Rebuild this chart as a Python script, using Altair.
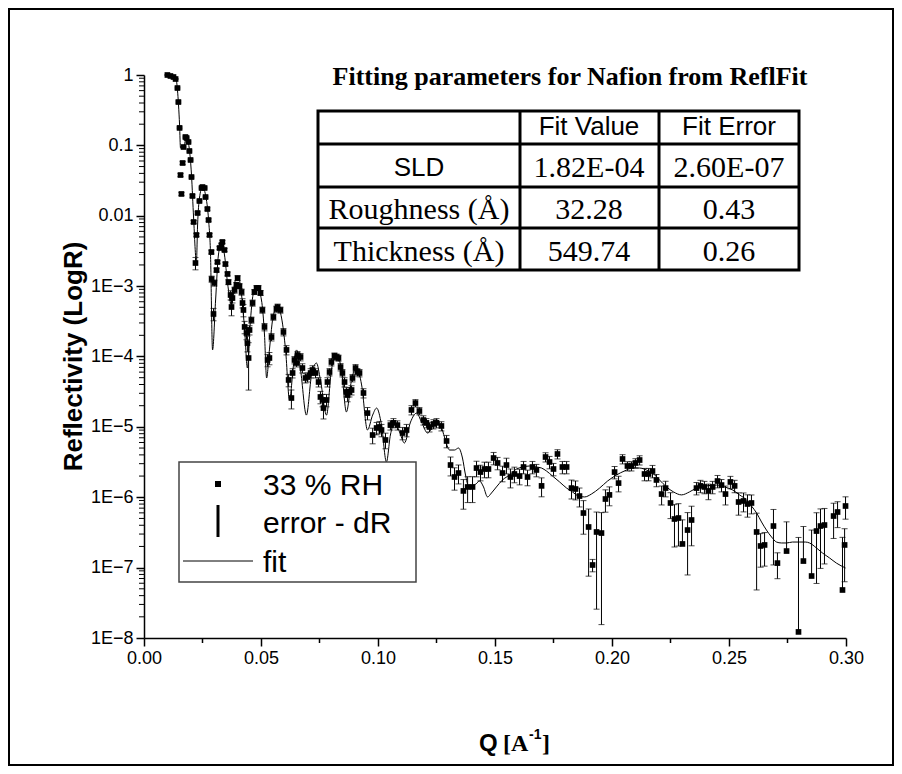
import altair as alt
import pandas as pd

# ---------------- fit curve (Q, R) ----------------
fit_q = [0.0100, 0.0135, 0.0143, 0.0152, 0.0156, 0.0169, 0.0182, 0.0190, 0.0203, 0.0212,
         0.0224, 0.0229, 0.0237, 0.0250, 0.0263, 0.0276, 0.0284, 0.0293, 0.0306, 0.0318,
         0.0331, 0.0344, 0.0357, 0.0374, 0.0391, 0.0404, 0.0417, 0.0430, 0.0442, 0.0455,
         0.0468, 0.0485, 0.0502, 0.0515, 0.0524, 0.0536, 0.0553, 0.0571, 0.0588, 0.0605,
         0.0622, 0.0639, 0.0652, 0.0669, 0.0694, 0.0716, 0.0737, 0.0754, 0.0780, 0.0801,
         0.0823, 0.0844, 0.0865, 0.0887, 0.0908, 0.0930, 0.0955, 0.0977, 0.0994, 0.1015,
         0.1036, 0.1053, 0.1071, 0.1092, 0.1113, 0.1139, 0.1165, 0.1186, 0.1212, 0.1237,
         0.1254, 0.1271, 0.1284, 0.1306, 0.1327, 0.1344, 0.1361, 0.1374, 0.1387, 0.1412,
         0.1434, 0.1451, 0.1468, 0.1485, 0.1506, 0.1532, 0.1562, 0.1592, 0.1618, 0.1647,
         0.1677, 0.1699, 0.1720, 0.1746, 0.1776, 0.1806, 0.1831, 0.1857, 0.1883, 0.1912,
         0.1947, 0.1981, 0.2019, 0.2053, 0.2088, 0.2118, 0.2147, 0.2173, 0.2203, 0.2233,
         0.2263, 0.2297, 0.2331, 0.2361, 0.2404, 0.2447, 0.2481, 0.2515, 0.2545, 0.2575,
         0.2596, 0.2618, 0.2639, 0.2660, 0.2682, 0.2703, 0.2724, 0.2746, 0.2771, 0.2801,
         0.2827, 0.2844, 0.2874, 0.2900, 0.2930, 0.2959, 0.2998]
fit_r = [1.0, 0.937, 0.612, 0.195, 0.0918, 0.0948, 0.1315, 0.108, 0.0379, 0.00929,
         0.0022, 0.00739, 0.01787, 0.0256, 0.0197, 0.0087, 0.00305, 0.000124, 0.000635, 0.00277,
         0.0041, 0.00277, 0.00111, 0.000539, 0.00122, 0.0013, 0.000748, 0.000238, 6.86e-5, 0.00033,
         0.0008, 0.00094, 0.000635, 0.000202, 4.95e-5, 0.000124, 0.000389, 0.000505, 0.000352, 0.000124,
         2.41e-5, 7.57e-5, 1.24e-4, 6.43e-5, 1.47e-5, 5.46e-5, 8.08e-5, 4.64e-5, 1.47e-5, 6.43e-5,
         1.05e-4, 6.43e-5, 1.63e-5, 4.64e-5, 7.09e-5, 3.94e-5, 9.03e-6, 1.47e-5, 1.85e-5, 1.06e-5,
         3.17e-6, 7.66e-6, 1.17e-5, 8.46e-6, 5.9e-6, 1.17e-5, 1.57e-5, 1.17e-5, 8.18e-6, 1.06e-5,
         1.25e-5, 9.96e-6, 7.18e-6, 4.69e-6, 4.69e-6, 5.01e-6, 3.61e-6, 2.07e-6, 1.45e-6, 1.49e-6,
         1.7e-6, 1.4e-6, 1.01e-6, 1.15e-6, 1.4e-6, 1.76e-6, 2.07e-6, 2.52e-6, 2.69e-6, 2.78e-6,
         2.69e-6, 2.6e-6, 2.36e-6, 2.0e-6, 1.65e-6, 1.35e-6, 1.19e-6, 1.04e-6, 1.01e-6, 1.11e-6,
         1.35e-6, 1.7e-6, 2.07e-6, 2.36e-6, 2.6e-6, 2.6e-6, 2.44e-6, 2.21e-6, 1.76e-6, 1.4e-6,
         1.19e-6, 1.08e-6, 1.19e-6, 1.35e-6, 1.45e-6, 1.49e-6, 1.4e-6, 1.27e-6, 1.08e-6, 9.14e-7,
         7.51e-7, 5.97e-7, 4.45e-7, 3.42e-7, 2.72e-7, 2.31e-7, 2.24e-7, 2.24e-7, 2.31e-7, 2.31e-7,
         2.31e-7, 2.24e-7, 1.9e-7, 1.61e-7, 1.37e-7, 1.16e-7, 9.88e-8]

# ---------------- measured points: Q, R and relative error dR/R ----------------
q = [0.0100, 0.0113, 0.0126, 0.0135, 0.0143, 0.0147, 0.0152, 0.0156, 0.0160, 0.0165,
     0.0169, 0.0177, 0.0182, 0.0190, 0.0194, 0.0199, 0.0203, 0.0207, 0.0212, 0.0220,
     0.0224, 0.0229, 0.0237, 0.0246, 0.0250, 0.0259, 0.0263, 0.0271, 0.0276, 0.0280,
     0.0288, 0.0289, 0.0297, 0.0301, 0.0310, 0.0314, 0.0323, 0.0331, 0.0335, 0.0344,
     0.0348, 0.0357, 0.0361, 0.0370, 0.0374, 0.0378, 0.0387, 0.0395, 0.0400, 0.0408,
     0.0417, 0.0421, 0.0425, 0.0430, 0.0438, 0.0442, 0.0447, 0.0451, 0.0459, 0.0464,
     0.0472, 0.0481, 0.0489, 0.0498, 0.0506, 0.0515, 0.0528, 0.0536, 0.0545, 0.0553,
     0.0566, 0.0571, 0.0583, 0.0596, 0.0609, 0.0618, 0.0630, 0.0635, 0.0643, 0.0652,
     0.0656, 0.0669, 0.0677, 0.0690, 0.0699, 0.0712, 0.0720, 0.0733, 0.0746, 0.0754,
     0.0763, 0.0767, 0.0780, 0.0784, 0.0793, 0.0801, 0.0814, 0.0823, 0.0831, 0.0840,
     0.0848, 0.0857, 0.0865, 0.0870, 0.0878, 0.0887, 0.0891, 0.0904, 0.0912, 0.0921,
     0.0938, 0.0955, 0.0977, 0.0994, 0.1006, 0.1015, 0.1032, 0.1053, 0.1066, 0.1083,
     0.1105, 0.1122, 0.1143, 0.1160, 0.1177, 0.1194, 0.1207, 0.1220, 0.1237, 0.1250,
     0.1271, 0.1293, 0.1310, 0.1327, 0.1344, 0.1365, 0.1383, 0.1404, 0.1421, 0.1438,
     0.1455, 0.1472, 0.1494, 0.1511, 0.1532, 0.1549, 0.1566, 0.1583, 0.1605, 0.1622,
     0.1639, 0.1660, 0.1677, 0.1699, 0.1716, 0.1733, 0.1750, 0.1767, 0.1788, 0.1806,
     0.1827, 0.1844, 0.1861, 0.1878, 0.1900, 0.1917, 0.1934, 0.1955, 0.1972, 0.1989,
     0.2011, 0.2028, 0.2045, 0.2066, 0.2083, 0.2100, 0.2118, 0.2139, 0.2156, 0.2173,
     0.2190, 0.2212, 0.2229, 0.2250, 0.2267, 0.2284, 0.2301, 0.2323, 0.2340, 0.2361,
     0.2378, 0.2395, 0.2412, 0.2430, 0.2451, 0.2468, 0.2485, 0.2506, 0.2524, 0.2541,
     0.2562, 0.2579, 0.2596, 0.2618, 0.2635, 0.2652, 0.2690, 0.2707, 0.2746, 0.2797,
     0.2818, 0.2853, 0.2874, 0.2891, 0.2908, 0.2947, 0.2964, 0.2985, 0.2994, 0.2998]
r = [1.0, 0.968, 0.937, 0.877, 0.653, 0.413, 0.177, 0.0379, 0.0204, 0.0562,
     0.0948, 0.1315, 0.1273, 0.1117, 0.0832, 0.062, 0.0355, 0.0191, 0.00815, 0.00213,
     0.00533, 0.01094, 0.0162, 0.0248, 0.0256, 0.0248, 0.01846, 0.01247, 0.0087, 0.00533,
     0.00305, 0.00126, 0.000402, 0.00111, 0.00169, 0.0022, 0.00348, 0.00384, 0.00424, 0.00326,
     0.00206, 0.00149, 0.00114, 0.000748, 0.000505, 0.000678, 0.000881, 0.00104, 0.0013, 0.001,
     0.000825, 0.000576, 0.000458, 0.000263, 0.000216, 0.000155, 9.52e-5, 0.000238, 0.00033, 0.000576,
     0.000825, 0.00094, 0.00094, 0.0008, 0.000458, 0.000263, 8.92e-5, 9.52e-5, 0.000189, 0.000364,
     0.000473, 0.000505, 0.000458, 0.000223, 0.000124, 4.64e-5, 2.57e-5, 5.83e-5, 8.92e-5, 8.08e-5,
     1.05e-4, 9.84e-5, 6.86e-5, 4.95e-5, 5.11e-5, 5.83e-5, 6.43e-5, 5.83e-5, 4.34e-5, 2.66e-5,
     2.41e-5, 1.85e-5, 2.41e-5, 4.34e-5, 6.02e-5, 8.35e-5, 1.02e-4, 9.84e-5, 9.52e-5, 7.09e-5,
     5.83e-5, 4.34e-5, 3.13e-5, 2.84e-5, 3.13e-5, 3.34e-5, 4.95e-5, 6.86e-5, 6.02e-5, 5.83e-5,
     3.03e-5, 1.57e-5, 7.66e-6, 9.64e-6, 9.96e-6, 9.03e-6, 6.51e-6, 1.06e-5, 1.14e-5, 1.06e-5,
     8.18e-6, 9.03e-6, 1.74e-5, 2.18e-5, 1.68e-5, 1.25e-5, 1.14e-5, 9.96e-6, 1.1e-5, 1.14e-5,
     1.03e-5, 6.3e-6, 2.87e-6, 1.94e-6, 2.21e-6, 1.23e-6, 1.4e-6, 1.4e-6, 2.6e-6, 2.28e-6,
     2.52e-6, 2.52e-6, 3.61e-6, 3.07e-6, 2.21e-6, 2.87e-6, 1.94e-6, 2.14e-6, 2.0e-6, 2.69e-6,
     1.94e-6, 2.69e-6, 2.44e-6, 1.45e-6, 3.73e-6, 3.17e-6, 2.52e-6, 4.12e-6, 2.69e-6, 2.69e-6,
     1.35e-6, 1.31e-6, 1.04e-6, 5.97e-7, 3.78e-7, 1.09e-7, 3.21e-7, 3.1e-7, 9.44e-7, 1.08e-6,
     2.28e-6, 1.59e-6, 3.5e-6, 2.78e-6, 2.78e-6, 3.07e-6, 3.38e-6, 2.14e-6, 2.14e-6, 2.36e-6,
     1.76e-6, 1.11e-6, 1.35e-6, 8.29e-7, 4.91e-7, 5.07e-7, 2.17e-7, 3.42e-7, 4.75e-7, 1.35e-6,
     1.45e-6, 1.4e-6, 1.23e-6, 1.4e-6, 1.7e-6, 1.49e-6, 1.11e-6, 1.65e-6, 1.45e-6, 8.56e-7,
     8.85e-7, 8.02e-7, 8.29e-7, 3.21e-7, 2.03e-7, 2.1e-7, 3.9e-7, 1.16e-7, 1.72e-7, 1.22e-8,
     1.24e-7, 7.6e-8, 3.31e-7, 3.9e-7, 4.03e-7, 5.41e-7, 6.17e-7, 4.81e-8, 2.1e-7, 7.51e-7]
dr_rel = [0.02, 0.02, 0.02, 0.02, 0.03, 0.03, 0.03, 0.05, 0.05, 0.05,
          0.03, 0.03, 0.03, 0.03, 0.03, 0.03, 0.03, 0.04, 0.05, 0.2,
          0.05, 0.04, 0.03, 0.03, 0.03, 0.03, 0.03, 0.04, 0.04, 0.05,
          0.06, 0.1, 0.2, 0.1, 0.06, 0.05, 0.05, 0.05, 0.05, 0.05,
          0.06, 0.06, 0.08, 0.15, 0.25, 0.15, 0.1, 0.08, 0.08, 0.08,
          0.1, 0.15, 0.2, 0.2, 0.2, 0.25, 0.65, 0.15, 0.1, 0.1,
          0.08, 0.08, 0.08, 0.08, 0.1, 0.12, 0.2, 0.2, 0.12, 0.1,
          0.1, 0.1, 0.1, 0.12, 0.15, 0.2, 0.3, 0.15, 0.12, 0.12,
          0.12, 0.12, 0.15, 0.15, 0.15, 0.15, 0.15, 0.15, 0.15, 0.2,
          0.2, 0.3, 0.2, 0.15, 0.12, 0.12, 0.1, 0.1, 0.1, 0.12,
          0.12, 0.15, 0.15, 0.2, 0.15, 0.15, 0.12, 0.12, 0.12, 0.12,
          0.15, 0.2, 0.25, 0.2, 0.2, 0.2, 0.25, 0.15, 0.15, 0.15,
          0.2, 0.2, 0.15, 0.12, 0.12, 0.15, 0.15, 0.15, 0.15, 0.15,
          0.15, 0.2, 0.3, 0.35, 0.3, 0.45, 0.4, 0.4, 0.25, 0.25,
          0.25, 0.25, 0.2, 0.2, 0.25, 0.25, 0.3, 0.25, 0.25, 0.2,
          0.25, 0.2, 0.2, 0.3, 0.15, 0.2, 0.2, 0.15, 0.2, 0.2,
          0.3, 0.3, 0.3, 0.5, 0.8, 0.2, 0.92, 0.95, 0.35, 0.3,
          0.2, 0.25, 0.15, 0.15, 0.15, 0.15, 0.15, 0.2, 0.2, 0.2,
          0.2, 0.3, 0.25, 0.4, 0.6, 0.6, 1.2, 0.77, 0.57, 0.2,
          0.2, 0.2, 0.25, 0.2, 0.2, 0.2, 0.3, 0.2, 0.2, 0.35,
          0.3, 0.35, 0.3, 0.85, 0.5, 0.5, 0.72, 0.4, 1.6, 21.0,
          2.1, 3.5, 0.82, 0.75, 0.72, 0.52, 0.4, 4.6, 0.7, 0.35]

# ---------------- axes ----------------
x_ticks = [0.00, 0.05, 0.10, 0.15, 0.20, 0.25, 0.30]
x_minor = [0.025, 0.075, 0.125, 0.175, 0.225, 0.275]
y_ticks = [1e-8, 1e-7, 1e-6, 1e-5, 1e-4, 1e-3, 1e-2, 1e-1, 1.0]
y_minor_mant = [2, 3, 4, 5, 6, 7, 8, 9]
y_minor_dec = [1e-8, 1e-7, 1e-6, 1e-5, 1e-4, 1e-3, 1e-2, 1e-1]
y_title = "Reflectivity (LogR)"

# ---------------- inset table & legend text ----------------
table_title = "Fitting parameters for Nafion from ReflFit"
row_labels = ["", "SLD", "Roughness (Å)", "Thickness (Å)"]
fit_value = ["Fit Value", "1.82E-04", "32.28", "549.74"]
fit_error = ["Fit Error", "2.60E-07", "0.43", "0.26"]
legend_labels = ["33 % RH", "error - dR", "fit"]

W, H = 702, 563
SANS = "Liberation Sans"
SERIF = "Liberation Serif"

pts = pd.DataFrame({"q": q, "r": r, "rel": dr_rel})
pts["dr"] = pts["r"] * pts["rel"]
pts["hi"] = pts["r"] + pts["dr"]
pts["lo"] = (pts["r"] - pts["dr"]).where(pts["r"] - pts["dr"] > 0, pts["r"])
low_caps = pts[pts["r"] - pts["dr"] > 0]
fit = pd.DataFrame({"q": fit_q, "r": fit_r})

xs = alt.Scale(domain=[0, 0.30], nice=False, zero=False)
ys = alt.Scale(type="log", domain=[1e-8, 1], nice=False)
x_axis = alt.Axis(values=x_ticks, format=".2f", title=None, labelFlush=False,
                  labelOverlap=False, grid=False)
y_axis = alt.Axis(values=y_ticks, title=None, grid=False, labelOverlap=False,
                  labelExpr="datum.value >= 0.01 ? format(datum.value, '~g') : '1E' + format(round(log(datum.value) / LN10), 'd')")

X = lambda f: alt.X(f, type="quantitative", scale=xs, axis=x_axis)
Y = lambda f: alt.Y(f, type="quantitative", scale=ys, axis=y_axis)

one = pd.DataFrame({"a": [0]})
layers = []

# outer frame
layers.append(alt.Chart(one).mark_rect(fillOpacity=0, stroke="black", strokeWidth=2).encode(
    x=alt.value(-135), x2=alt.value(W + 47), y=alt.value(-66), y2=alt.value(H + 127)))

# minor ticks
ymin = pd.DataFrame({"v": [m * d for d in y_minor_dec for m in y_minor_mant]})
layers.append(alt.Chart(ymin).mark_rule(color="black", strokeWidth=1).encode(
    y=Y("v"), x=alt.value(-5), x2=alt.value(0)))
xmin = pd.DataFrame({"v": x_minor})
layers.append(alt.Chart(xmin).mark_rule(color="black", strokeWidth=1.5).encode(
    x=X("v"), y=alt.value(H), y2=alt.value(H + 5)))

# fit line
layers.append(alt.Chart(fit).mark_line(color="black", strokeWidth=1, interpolate="monotone").encode(
    x=X("q"), y=Y("r")))
# error bars
layers.append(alt.Chart(pts).mark_rule(color="black", strokeWidth=1).encode(
    x=X("q"), y=Y("lo"), y2="hi:Q"))
layers.append(alt.Chart(pts).mark_tick(orient="horizontal", size=6, thickness=1, color="black").encode(
    x=X("q"), y=Y("hi")))
layers.append(alt.Chart(low_caps).mark_tick(orient="horizontal", size=6, thickness=1, color="black").encode(
    x=X("q"), y=Y("lo")))
# points
layers.append(alt.Chart(pts).mark_square(size=32, color="black", opacity=1).encode(
    x=X("q"), y=Y("r")))


def txt(s, x, y, font, size, weight="normal", align="center", angle=0, baseline="alphabetic"):
    return alt.Chart(one).mark_text(text=s, font=font, fontSize=size, fontWeight=weight,
                                    align=align, baseline=baseline, angle=angle,
                                    color="black").encode(
        x=alt.value(x), y=alt.value(y))


# ---- y-axis title ----
layers.append(txt(y_title, -70, H / 2, SANS, 26, "bold", "center", 270, "middle"))

# ---- inset table ----
TL, TR, TT, TB = 174, 655, 36, 195
col_lines = [376, 515]
row_lines = [69, 112, 153]
layers.append(alt.Chart(one).mark_rect(fill="white", stroke="black", strokeWidth=3).encode(
    x=alt.value(TL), x2=alt.value(TR), y=alt.value(TT), y2=alt.value(TB)))
for cx in col_lines:
    layers.append(alt.Chart(one).mark_rule(color="black", strokeWidth=3).encode(
        x=alt.value(cx), y=alt.value(TT), y2=alt.value(TB)))
for ry in row_lines:
    layers.append(alt.Chart(one).mark_rule(color="black", strokeWidth=3).encode(
        y=alt.value(ry), x=alt.value(TL), x2=alt.value(TR)))
layers.append(txt(table_title, 426, 10, SERIF, 26, "bold"))
col_x = [275, 445, 585]
row_base = [60, 102, 144, 186]
for i in range(4):
    for j, col in enumerate([row_labels, fit_value, fit_error]):
        s = col[i]
        if not s:
            continue
        sans = (i == 0) or (s == "SLD")
        layers.append(txt(s, col_x[j], row_base[i] - (1 if sans and i > 0 else 0),
                          SANS if sans else SERIF, 26 if sans else 30))

# ---- legend ----
layers.append(alt.Chart(one).mark_rect(fill="white", stroke="#444444", strokeWidth=1.5).encode(
    x=alt.value(35), x2=alt.value(272), y=alt.value(387), y2=alt.value(507)))
layers.append(alt.Chart(one).mark_square(size=36, color="black", opacity=1).encode(
    x=alt.value(74), y=alt.value(409)))
layers.append(alt.Chart(one).mark_rule(color="black", strokeWidth=3).encode(
    x=alt.value(74), y=alt.value(430), y2=alt.value(462)))
layers.append(alt.Chart(one).mark_rule(color="black", strokeWidth=1).encode(
    y=alt.value(486), x=alt.value(39), x2=alt.value(109)))
for s, yb in zip(legend_labels, [420, 458, 497]):
    layers.append(txt(s, 119, yb, SANS, 30, align="left"))

# ---- x-axis title: Q [A^-1] ----
layers.append(txt("Q", 335, 676, SANS, 24, "bold", "left"))
layers.append(txt("[A", 359, 676, SERIF, 24, "bold", "left"))
layers.append(txt("-1", 385, 664, SANS, 14, "bold", "left"))
layers.append(txt("]", 398, 676, SERIF, 24, "bold", "left"))

chart = alt.layer(*layers).properties(
    width=W, height=H,
    padding={"left": 136, "top": 67, "right": 48, "bottom": 128},
    autosize=alt.AutoSizeParams(type="none"),
    background="white",
).configure_view(stroke=None).configure_axis(
    labelFont=SANS, labelFontSize=18, labelColor="black",
    domainColor="black", domainWidth=1.5, tickColor="black", tickWidth=1.5, tickSize=8,
    labelPadding=3,
)

chart.save("out.html", embed_options={"renderer": "svg", "actions": False})
